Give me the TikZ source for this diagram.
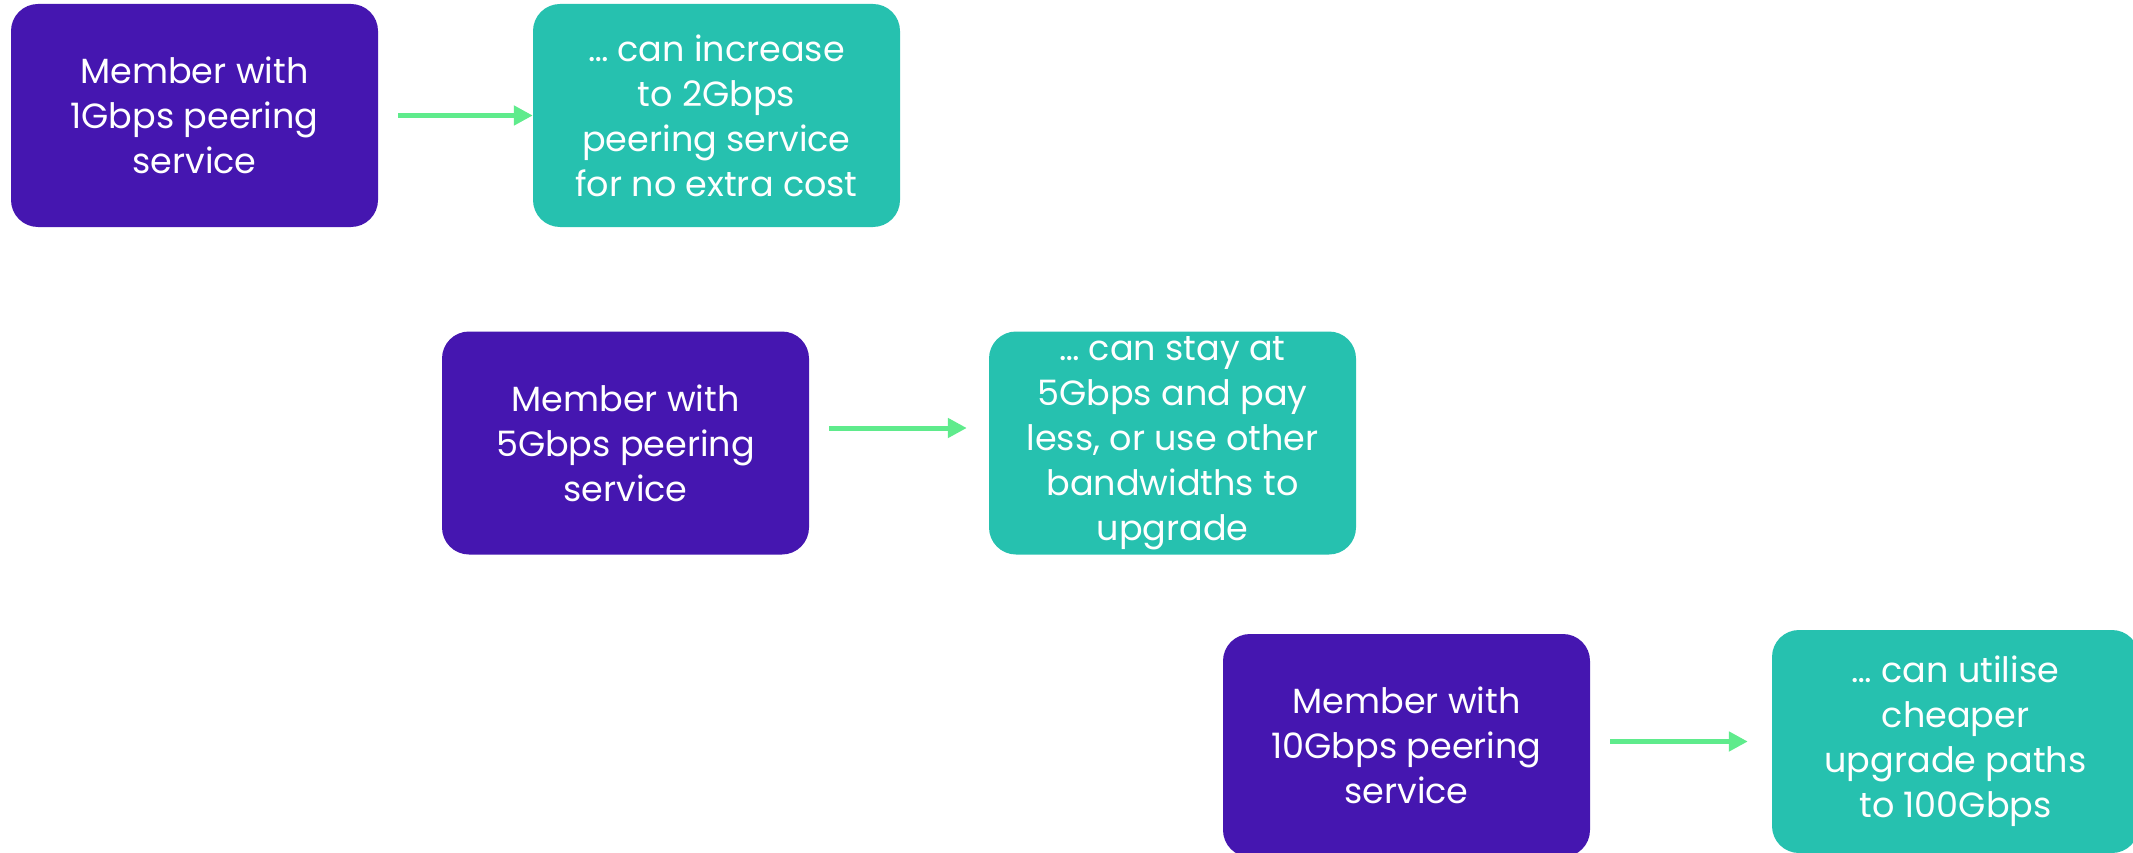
\documentclass[tikz,border=0pt]{standalone}
\usepackage{fontspec}
\setmainfont{Poppins}
\definecolor{memberpurple}{RGB}{69,22,176}
\definecolor{resultteal}{RGB}{38,193,175}
\definecolor{arrowgreen}{RGB}{95,235,140}
\tikzset{
  member/.style={fill=memberpurple, rounded corners=27pt, minimum width=367pt,
    minimum height=223pt, text=white, align=center, inner sep=0pt,
    font=\fontsize{35}{45}\selectfont},
  result/.style={member, fill=resultteal},
  upgrade/.style={draw=arrowgreen, line width=5pt, -{Triangle[length=19pt,width=19pt]},
    shorten <=20pt},
}
\usetikzlibrary{arrows.meta}
\begin{document}
\begin{tikzpicture}[x=1pt,y=-1pt]
  \useasboundingbox (0,0) rectangle (2133,853);
  \clip (0,0) rectangle (2133,853);
  % first row
  \node[member] (m1) at (194.5,115.5) {Member with\\1Gbps peering\\service};
  \node[result] (r1) at (716.5,115.5) {… can increase\\to 2Gbps\\peering service\\for no extra cost};
  % second row
  \node[member] (m5) at (625.5,443) {Member with\\5Gbps peering\\service};
  \node[result] (r5) at (1172.5,443) {… can stay at\\5Gbps and pay\\less, or use other\\bandwidths to\\upgrade};
  % third row
  \node[member] (m10) at (1406.5,745.5) {Member with\\10Gbps peering\\service};
  \node[result] (r10) at (1955.5,741.5) {… can utilise\\cheaper\\upgrade paths\\to 100Gbps};
  \draw[upgrade] (m1) -- (r1);
  \draw[upgrade, shorten >=22pt] ([yshift=15pt]m5.east) -- ([yshift=15pt]r5.west);
  \draw[upgrade, shorten >=24pt] (m10.east |- r10) -- (r10);
\end{tikzpicture}
\end{document}
